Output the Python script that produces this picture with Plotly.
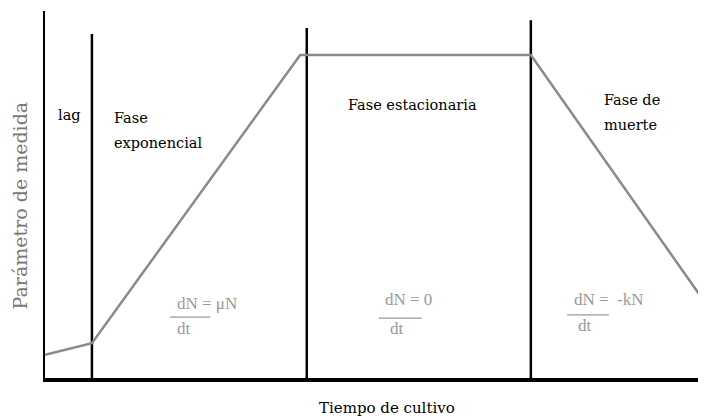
import plotly.graph_objects as go

# growth curve (time in % of axis length, measured parameter in % of axis height)
curve_t = [0, 7.1, 38.6, 73.5, 100]
curve_y = [6.3, 9.5, 88.0, 88.0, 20.2]

# phase boundaries
bound_t = [7.1, 39.6, 73.5]
bound_top = [93.7, 95.4, 97.5]

# phase labels
phase_text = ["lag", "Fase", "exponencial", "Fase estacionaria", "Fase de", "muerte"]
phase_t = [1.6, 10.1, 10.1, 45.5, 84.3, 84.3]
phase_y = [71.7, 70.8, 64.0, 74.4, 75.7, 68.9]

# rate equations: numerator, bar, denominator
eq_num = ["dN = \u03bcN", "dN = 0", "dN =  -kN"]
eq_t = [19.7, 51.1, 79.7]
eq_num_y = [20.4, 21.3, 21.3]
bar_t0 = [18.9, 50.5, 79.0]
bar_t1 = [25.0, 57.0, 85.3]
bar_y = [16.6, 16.3, 17.2]
den_t = [19.7, 51.9, 80.3]
den_y = [13.4, 13.6, 14.2]

fig = go.Figure()

for t, top in zip(bound_t, bound_top):
    fig.add_trace(go.Scatter(x=[t, t], y=[0, top], mode="lines",
                             line=dict(color="black", width=2.5),
                             hoverinfo="skip", showlegend=False))

fig.add_trace(go.Scatter(x=curve_t, y=curve_y, mode="lines",
                         line=dict(color="#8a8a8a", width=2.5),
                         showlegend=False, cliponaxis=False))

for a, b, yb in zip(bar_t0, bar_t1, bar_y):
    fig.add_trace(go.Scatter(x=[a, b], y=[yb, yb], mode="lines",
                             line=dict(color="#999999", width=1.2),
                             hoverinfo="skip", showlegend=False))

serif = "DejaVu Serif"
for txt, t, yv in zip(phase_text, phase_t, phase_y):
    fig.add_annotation(x=t, y=yv, text=txt, showarrow=False, xanchor="left",
                       font=dict(family=serif, size=14.5, color="black"))

for txt, t, yv in zip(eq_num, eq_t, eq_num_y):
    fig.add_annotation(x=t, y=yv, text=txt, showarrow=False, xanchor="left",
                       font=dict(family="Liberation Serif", size=17, color="#999999"))
for t, yv in zip(den_t, den_y):
    fig.add_annotation(x=t, y=yv, text="dt", showarrow=False, xanchor="left",
                       font=dict(family="Liberation Serif", size=17, color="#999999"))

# axis titles (paper coords so they can sit outside the plot area)
fig.add_annotation(x=0.517, y=-0.083, xref="paper", yref="paper",
                   xanchor="center", yanchor="middle",
                   text="Tiempo de cultivo", showarrow=False,
                   font=dict(family=serif, size=15, color="black"))
fig.add_annotation(x=-0.038, y=0.47, xref="paper", yref="paper",
                   xanchor="center", yanchor="middle",
                   text="Par\u00e1metro de medida", showarrow=False,
                   textangle=-90, font=dict(family=serif, size=19, color="#777777"))

fig.update_xaxes(range=[0, 100], showline=True, linecolor="black", linewidth=4,
                 showgrid=False, zeroline=False, showticklabels=False, ticks="")
fig.update_yaxes(range=[0, 100], showline=True, linecolor="black", linewidth=1.5,
                 showgrid=False, zeroline=False, showticklabels=False, ticks="")
# page body has an 8px margin, so shrink the figure and shift the plot area
fig.update_layout(width=698, height=411, margin=dict(l=37, r=0, t=3, b=41),
                  plot_bgcolor="white", paper_bgcolor="white")

fig.write_html("out.html")
